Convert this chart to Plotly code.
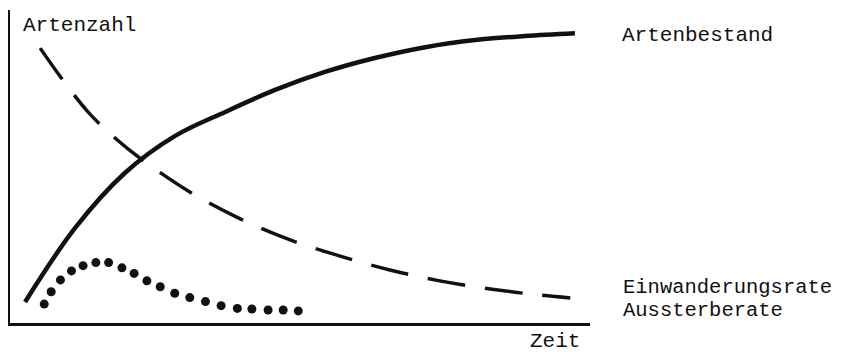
import plotly.graph_objects as go

# schematic values, time 0-100, species count 0-100
bestand_t = [2.6, 11.2, 19.8, 28.4, 37.1, 45.7, 54.3, 62.9, 71.6, 80.2, 88.8, 97.4]
bestand_n = [6.8, 30.6, 48.4, 60.3, 68.1, 75.2, 81.0, 85.5, 89.0, 91.3, 92.6, 93.5]

einw_t = [5.2, 9.5, 13.8, 18.1, 22.4, 31.0, 39.7, 48.3, 56.9, 65.5, 74.1, 82.8, 91.4, 96.6]
einw_n = [88.7, 77.4, 67.4, 59.7, 53.2, 42.3, 33.6, 26.8, 21.6, 17.1, 13.6, 11.0, 9.0, 8.1]

aus_t = [5.9, 7.1, 8.7, 10.6, 12.6, 14.8, 17.0, 19.3, 21.4, 23.6,
         25.9, 28.4, 31.0, 33.7, 36.4, 39.2, 41.7, 44.5, 47.1, 49.7]
aus_n = [6.1, 10.1, 13.9, 16.8, 18.5, 19.5, 19.5, 17.8, 16.0, 13.6,
         11.7, 9.6, 8.2, 6.9, 5.6, 4.7, 4.5, 4.2, 4.2, 3.9]

ink = "#111111"
mono = "Liberation Mono, Courier New, monospace"

fig = go.Figure()

fig.add_trace(go.Scatter(
    x=bestand_t, y=bestand_n, mode="lines",
    line=dict(color=ink, width=4.5, shape="spline"),
    name="Artenbestand"
))
fig.add_trace(go.Scatter(
    x=einw_t, y=einw_n, mode="lines",
    line=dict(color=ink, width=3.5, shape="spline", dash="38px,20px"),
    name="Einwanderungsrate"
))
fig.add_trace(go.Scatter(
    x=aus_t, y=aus_n, mode="markers",
    marker=dict(color=ink, size=9),
    name="Aussterberate"
))

# text, x, y, yanchor, size
labels = [
    ("Artenzahl", 0.019, 0.949, "middle", 21),
    ("Artenbestand", 1.051, 0.917, "middle", 21),
    ("Einwanderungsrate", 1.054, 0.115, "middle", 20.5),
    ("Aussterberate", 1.054, 0.0415, "middle", 20.5),
    ("Zeit", 0.893, -0.102, "bottom", 21),
]
for text, x, y, ya, size in labels:
    fig.add_annotation(text=text, x=x, y=y, xref="paper", yref="paper",
                       xanchor="left", yanchor=ya, showarrow=False,
                       font=dict(family=mono, size=size, color=ink))

axis = dict(showgrid=False, zeroline=False, showticklabels=False, ticks="",
            showline=True, linecolor=ink, linewidth=3)

# page body has an 8px margin, so the figure is a bit smaller than the window
fig.update_layout(
    width=842, height=348,
    margin=dict(l=2, r=260, t=2, b=33),
    paper_bgcolor="white", plot_bgcolor="white",
    showlegend=False,
    xaxis=dict(range=[0, 100], **axis),
    yaxis=dict(range=[0, 101], **axis),
)

fig.write_html("out.html")
